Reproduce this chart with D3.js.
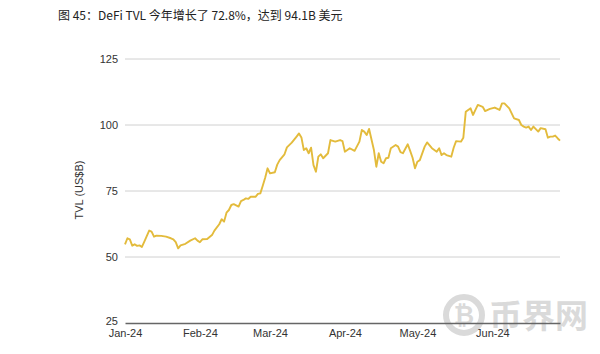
<!DOCTYPE html>
<html>
<head>
<meta charset="utf-8">
<script src="https://cdn.jsdelivr.net/npm/d3@7"></script>
<style>
  body { margin: 0; background: #fff; }
  svg { display: block; font-family: "Liberation Sans", Arial, sans-serif; }
</style>
</head>
<body>
<div id="chart"></div>
<script>
// chart data
const titleText = '图 45：DeFi TVL 今年增长了 72.8%，达到 94.1B 美元';
const yTicks = [25, 50, 75, 100, 125];
const monthTicks = ['2024-01-01', '2024-02-01', '2024-03-01', '2024-04-01', '2024-05-01', '2024-06-01'];

const dates = [
    '2024-01-01', '2024-01-02', '2024-01-03', '2024-01-04', '2024-01-05', '2024-01-06', '2024-01-07', '2024-01-08',
    '2024-01-09', '2024-01-11', '2024-01-12', '2024-01-13', '2024-01-14', '2024-01-16', '2024-01-18', '2024-01-20',
    '2024-01-21', '2024-01-22', '2024-01-23', '2024-01-24', '2024-01-26', '2024-01-28', '2024-01-30', '2024-01-31',
    '2024-02-01', '2024-02-02', '2024-02-04', '2024-02-06', '2024-02-07', '2024-02-09', '2024-02-10', '2024-02-11',
    '2024-02-12', '2024-02-13', '2024-02-14', '2024-02-15', '2024-02-17', '2024-02-18', '2024-02-19', '2024-02-20',
    '2024-02-21', '2024-02-22', '2024-02-24', '2024-02-25', '2024-02-26', '2024-02-27', '2024-02-28', '2024-02-29',
    '2024-03-01', '2024-03-03', '2024-03-04', '2024-03-05', '2024-03-07', '2024-03-08', '2024-03-10', '2024-03-12',
    '2024-03-13', '2024-03-14', '2024-03-15', '2024-03-16', '2024-03-17', '2024-03-18', '2024-03-19', '2024-03-20',
    '2024-03-21', '2024-03-22', '2024-03-23', '2024-03-25', '2024-03-26', '2024-03-28', '2024-03-30', '2024-03-31',
    '2024-04-01', '2024-04-03', '2024-04-05', '2024-04-07', '2024-04-08', '2024-04-09', '2024-04-10', '2024-04-11',
    '2024-04-13', '2024-04-14', '2024-04-15', '2024-04-16', '2024-04-17', '2024-04-18', '2024-04-19', '2024-04-20',
    '2024-04-22', '2024-04-23', '2024-04-24', '2024-04-25', '2024-04-27', '2024-04-28', '2024-04-29', '2024-04-30',
    '2024-05-01', '2024-05-02', '2024-05-04', '2024-05-05', '2024-05-07', '2024-05-09', '2024-05-10', '2024-05-11',
    '2024-05-12', '2024-05-13', '2024-05-15', '2024-05-16', '2024-05-17', '2024-05-19', '2024-05-20', '2024-05-21',
    '2024-05-22', '2024-05-23', '2024-05-24', '2024-05-25', '2024-05-26', '2024-05-28', '2024-05-29', '2024-05-31',
    '2024-06-02', '2024-06-04', '2024-06-05', '2024-06-06', '2024-06-08', '2024-06-10', '2024-06-12', '2024-06-13',
    '2024-06-14', '2024-06-15', '2024-06-16', '2024-06-17', '2024-06-18', '2024-06-20', '2024-06-21', '2024-06-23',
    '2024-06-24', '2024-06-25', '2024-06-26', '2024-06-27', '2024-06-28', '2024-06-29'
];

const tvl = [
    54.8, 57.1, 56.7, 54.3, 54.8, 54.2, 54.4, 53.8,
    55.8, 60.0, 59.6, 57.7, 58.1, 58.0, 57.7, 57.1,
    56.7, 55.6, 53.3, 54.4, 55.0, 56.2, 57.1, 56.2,
    55.6, 56.7, 56.8, 58.3, 60.0, 62.4, 64.3, 63.4,
    66.8, 67.8, 69.7, 70.0, 69.1, 71.2, 71.6, 72.2,
    72.0, 72.8, 72.8, 73.9, 74.1, 77.0, 80.0, 83.6,
    81.7, 82.1, 85.0, 86.7, 88.9, 91.5, 93.3, 95.6,
    96.8, 95.3, 90.5, 91.2, 89.3, 91.4, 84.8, 82.3,
    88.0, 88.9, 87.4, 89.3, 94.3, 93.7, 94.3, 93.9,
    89.9, 91.2, 90.2, 93.7, 98.1, 97.5, 96.2, 98.5,
    90.5, 84.2, 89.3, 86.1, 85.5, 87.4, 87.6, 91.2,
    92.4, 91.8, 89.7, 89.3, 92.7, 90.2, 87.6, 83.6,
    86.1, 86.7, 91.8, 93.4, 91.2, 89.9, 91.2, 88.6,
    89.3, 88.6, 88.0, 91.4, 93.9, 93.7, 95.2, 105.0,
    105.7, 106.3, 103.8, 105.7, 107.6, 106.9, 105.3, 106.1,
    106.6, 105.7, 108.2, 108.2, 106.3, 102.5, 101.9, 100.0,
    99.4, 99.0, 99.4, 98.1, 99.4, 97.5, 98.8, 98.4,
    95.2, 95.6, 95.6, 96.0, 95.0, 94.1
];

const width = 600;
const height = 354;
const plot = { left: 125, right: 560, top: 59, bottom: 323 };

const parseDate = d3.timeParse('%Y-%m-%d');
let points = dates.map(function(d, i) {
    return { date: parseDate(d), value: tvl[i] };
});

let x = d3.scaleTime()
    .domain([parseDate('2024-01-01'), parseDate('2024-06-29')])
    .range([plot.left, plot.right]);

let y = d3.scaleLinear()
    .domain([25, 125])
    .range([plot.bottom, plot.top]);

let svg = d3.select('#chart')
    .append('svg')
    .attr('width', width)
    .attr('height', height);

// title
svg.append('text')
    .attr('x', 58)
    .attr('y', 20)
    .attr('font-size', 12)
    .attr('fill', '#222')
    .attr('font-family', '"Noto Sans CJK SC", "Liberation Sans", sans-serif')
    .text(titleText);

// horizontal grid
svg.append('g')
    .attr('class', 'grid')
    .selectAll('line')
    .data(yTicks.filter(function(t) { return t !== 25; }))
    .enter()
    .append('line')
    .attr('x1', plot.left)
    .attr('x2', plot.right)
    .attr('y1', function(d) { return y(d); })
    .attr('y2', function(d) { return y(d); })
    .attr('stroke', '#d0d0d0')
    .attr('stroke-width', 1);

// y axis labels only
let yAxis = d3.axisLeft(y)
    .tickValues(yTicks)
    .tickSize(0)
    .tickPadding(7);

let gy = svg.append('g')
    .attr('transform', 'translate(' + plot.left + ',0)')
    .call(yAxis)
    .call(function(g) { g.select('.domain').remove(); });
gy.selectAll('text')
    .attr('font-size', 11)
    .attr('fill', '#333')
    .attr('font-family', '"Liberation Sans", Arial, sans-serif');
// the bottom "25" sits just above the month labels
gy.selectAll('.tick')
    .filter(function(d) { return d === 25; })
    .select('text')
    .attr('dy', '0.1em');

svg.append('text')
    .attr('transform', 'translate(83,190) rotate(-90)')
    .attr('text-anchor', 'middle')
    .attr('font-size', 11)
    .attr('fill', '#333')
    .text('TVL (US$B)');

// watermark, under the axis
let wm = svg.append('g')
    .attr('class', 'watermark');
wm.append('circle')
    .attr('cx', 464)
    .attr('cy', 315)
    .attr('r', 18)
    .attr('fill', 'none')
    .attr('stroke', '#dadada')
    .attr('stroke-width', 6);
wm.append('text')
    .attr('x', 464)
    .attr('y', 324)
    .attr('text-anchor', 'middle')
    .attr('font-size', 25)
    .attr('font-weight', 'bold')
    .attr('fill', '#dadada')
    .text('₿');
wm.append('text')
    .attr('x', 489)
    .attr('y', 328)
    .attr('font-size', 33)
    .attr('font-weight', 'bold')
    .attr('fill', '#dadada')
    .attr('font-family', '"Noto Sans CJK SC", sans-serif')
    .text('币界网');

// x axis
let xAxis = d3.axisBottom(x)
    .tickValues(monthTicks.map(parseDate))
    .tickFormat(d3.timeFormat('%b-%y'))
    .tickSize(0)
    .tickPadding(6);

let gx = svg.append('g')
    .attr('transform', 'translate(0,' + plot.bottom + ')')
    .call(xAxis);
gx.select('.domain')
    .attr('stroke', '#666')
    .attr('stroke-width', 1.5);
gx.selectAll('text')
    .attr('font-size', 11)
    .attr('fill', '#333')
    .attr('font-family', '"Liberation Sans", Arial, sans-serif');

// TVL line
let line = d3.line()
    .x(function(d) { return x(d.date); })
    .y(function(d) { return y(d.value); });

svg.append('path')
    .datum(points)
    .attr('d', line)
    .attr('fill', 'none')
    .attr('stroke', '#e3bb3c')
    .attr('stroke-width', 1.9)
    .attr('stroke-linejoin', 'round');
</script>
</body>
</html>
